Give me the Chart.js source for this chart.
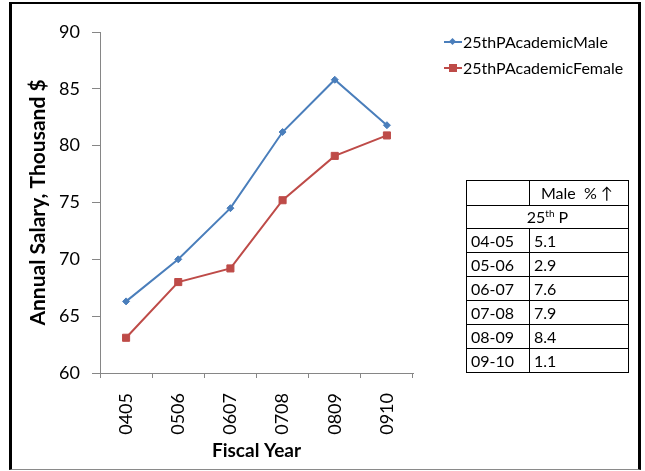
<!DOCTYPE html>
<html>
<head>
<meta charset="utf-8">
<script src="https://cdn.jsdelivr.net/npm/chart.js@4.4.0/dist/chart.umd.min.js"></script>
<style>
  html, body { margin: 0; padding: 0; background: #fff; }
  #wrap { position: relative; width: 645px; height: 471px; overflow: hidden; font-family: Lato, "Open Sans", sans-serif; }
  #frame { position: absolute; left: 9px; top: 2px; width: 632px; height: 468px; box-sizing: border-box;
           border-left: 3px solid #000; border-top: 2px solid #000; border-right: 3px solid #000; border-bottom: 1px solid #8a8a8a; }
  #chart { position: absolute; left: 0; top: 0; }
  #legend { position: absolute; left: 444px; top: 31px; font-size: 16px; color: #000; }
  .item { position: relative; height: 26px; line-height: 22px; padding-left: 19px; white-space: nowrap; }
  .item .ln { position: absolute; left: 0; top: 10px; width: 18px; height: 2px; }
  .item .mk { position: absolute; }
  #pct { position: absolute; left: 466px; top: 180px; border-collapse: collapse; table-layout: fixed; width: 162px; font-size: 16px; color: #000; }
  #pct td { border: 1px solid #000; padding: 0 0 0 4px; height: 23px; line-height: 22px; white-space: nowrap; overflow: hidden; }
  #pct td.hd { text-align: center; padding: 0; }
  #pct sup { font-size: 10px; vertical-align: 6px; line-height: 0; }
</style>
</head>
<body>
<div id="wrap">
  <div id="frame"></div>
  <canvas id="chart" width="645" height="471"></canvas>
  <div id="legend"></div>
  <table id="pct"><colgroup><col style="width:63px"><col style="width:99px"></colgroup><tbody id="pctBody"></tbody></table>
</div>
<script>
// Fiscal years on the x axis
const fiscalYears = ['0405', '0506', '0607', '0708', '0809', '0910'];
// 25th percentile academic salary, thousand $
const maleSalary = [66.3, 70.0, 74.5, 81.2, 85.8, 81.8];
const femaleSalary = [63.1, 68.0, 69.2, 75.2, 79.1, 80.9];
const seriesNames = ['25thPAcademicMale', '25thPAcademicFemale'];
// Year-over-year increase for the male 25th percentile, %
const periodLabels = ['04-05', '05-06', '06-07', '07-08', '08-09', '09-10'];
const malePctIncrease = ['5.1', '2.9', '7.6', '7.9', '8.4', '1.1'];
// Y axis range
const yTicks = [60, 65, 70, 75, 80, 85, 90];

const BLUE = '#4A7EBB';
const RED = '#BE4B48';
const AXIS = '#868686';
const FONT = 'Lato, "Open Sans", sans-serif';

new Chart(document.getElementById('chart'), {
  type: 'line',
  data: {
    labels: fiscalYears,
    datasets: [
      {
        label: seriesNames[0], data: maleSalary,
        borderColor: BLUE, backgroundColor: BLUE, borderWidth: 2,
        pointStyle: 'rectRot', pointRadius: 3.5, pointBorderWidth: 1,
        pointBackgroundColor: BLUE, pointBorderColor: BLUE, tension: 0
      },
      {
        label: seriesNames[1], data: femaleSalary,
        borderColor: RED, backgroundColor: RED, borderWidth: 2,
        pointStyle: 'rect', pointRadius: 5, pointBorderWidth: 1,
        pointBackgroundColor: RED, pointBorderColor: RED, tension: 0
      }
    ]
  },
  options: {
    responsive: false,
    animation: false,
    devicePixelRatio: 1,
    layout: { padding: { left: 22, right: 232, top: 32, bottom: 0 } },
    plugins: { legend: { display: false }, tooltip: { enabled: false } },
    scales: {
      x: {
        type: 'category',
        offset: true,
        grid: { display: true, drawOnChartArea: false, drawTicks: true, tickLength: 5, offset: true, color: AXIS },
        border: { display: true, color: AXIS, width: 1 },
        ticks: { color: '#000', font: { family: FONT, size: 18 }, minRotation: 90, maxRotation: 90, padding: 15, autoSkip: false },
        title: { display: true, text: 'Fiscal Year', color: '#000', font: { family: FONT, size: 19, weight: 'bold' }, padding: { top: 0, bottom: 9 } },
        afterFit: (s) => { s.height = 98; }
      },
      y: {
        min: yTicks[0], max: yTicks[yTicks.length - 1],
        afterBuildTicks: (s) => { s.ticks = yTicks.map(v => ({ value: v })); },
        grid: { display: true, drawOnChartArea: false, drawTicks: true, tickLength: 8, color: AXIS },
        border: { display: true, color: AXIS, width: 1 },
        ticks: { color: '#000', font: { family: FONT, size: 18 }, padding: 12 },
        title: { display: true, text: 'Annual Salary, Thousand $', color: '#000', font: { family: FONT, size: 21, weight: 'bold' }, padding: { top: 4, bottom: 4 } },
        afterFit: (s) => { s.width = 78; }
      }
    }
  }
});

// Legend
const legend = document.getElementById('legend');
const colors = [BLUE, RED];
seriesNames.forEach((name, i) => {
  const item = document.createElement('div');
  item.className = 'item';
  const ln = document.createElement('span');
  ln.className = 'ln';
  ln.style.background = colors[i];
  const mk = document.createElement('span');
  mk.className = 'mk';
  mk.style.background = colors[i];
  if (i === 0) {
    Object.assign(mk.style, { left: '6px', top: '8px', width: '5px', height: '5px', transform: 'rotate(45deg)' });
  } else {
    Object.assign(mk.style, { left: '5px', top: '7px', width: '8px', height: '8px' });
  }
  item.appendChild(ln);
  item.appendChild(mk);
  item.appendChild(document.createTextNode(name));
  legend.appendChild(item);
});

// Percent increase table
const body = document.getElementById('pctBody');
body.innerHTML =
  '<tr><td style="height:24px"></td><td style="height:24px;text-indent:7px">Male&nbsp; %&nbsp;&#8593;</td></tr>' +
  '<tr><td class="hd" colspan="2" style="height:22px">25<sup>th</sup> P</td></tr>' +
  periodLabels.map((p, i) => '<tr><td>' + p + '</td><td>' + malePctIncrease[i] + '</td></tr>').join('');
</script>
</body>
</html>
